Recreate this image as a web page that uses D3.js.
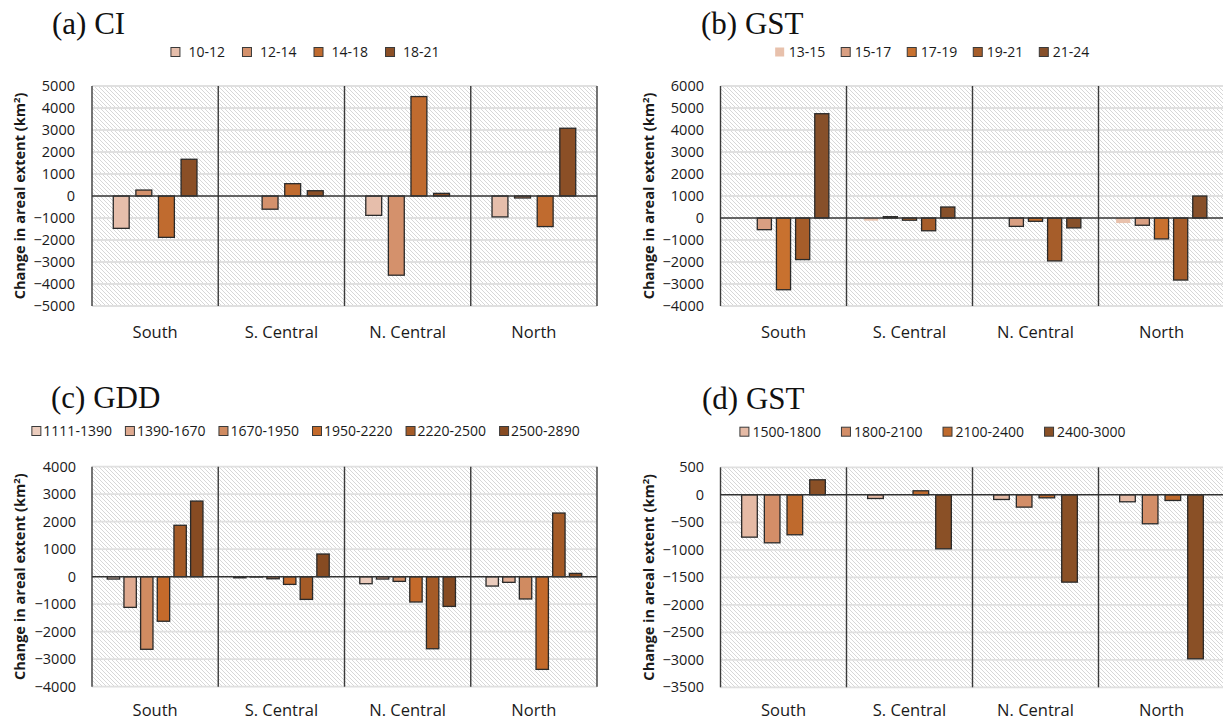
<!DOCTYPE html>
<html>
<head>
<meta charset="utf-8">
<script src="https://cdn.jsdelivr.net/npm/d3@7"></script>
<style>
  html, body { margin: 0; padding: 0; background: #ffffff; }
  svg { display: block; }
</style>
</head>
<body>
<svg id="chart" width="1223" height="723"></svg>
<script>
// ---------------- DATA ----------------
const categories = ["South", "S. Central", "N. Central", "North"];

// (a) CI
const ciSeries = ["10-12", "12-14", "14-18", "18-21"];
const ci_10_12 = [-1470, 0, -880, -950];
const ci_12_14 = [270, -600, -3600, -90];
const ci_14_18 = [-1880, 560, 4520, -1390];
const ci_18_21 = [1670, 240, 120, 3080];
const ciTicks = [5000, 4000, 3000, 2000, 1000, 0, -1000, -2000, -3000, -4000, -5000];

// (b) GST
const gstSeries = ["13-15", "15-17", "17-19", "19-21", "21-24"];
const gst_13_15 = [0, -120, 0, -230];
const gst_15_17 = [-530, 60, -380, -330];
const gst_17_19 = [-3260, -100, -150, -950];
const gst_19_21 = [-1890, -580, -1950, -2820];
const gst_21_24 = [4740, 500, -450, 1000];
const gstTicks = [6000, 5000, 4000, 3000, 2000, 1000, 0, -1000, -2000, -3000, -4000];

// (c) GDD
const gddSeries = ["1111-1390", "1390-1670", "1670-1950", "1950-2220", "2220-2500", "2500-2890"];
const gdd_1111_1390 = [-85, -40, -255, -340];
const gdd_1390_1670 = [-1115, -10, -85, -205];
const gdd_1670_1950 = [-2640, -75, -170, -810];
const gdd_1950_2220 = [-1620, -280, -920, -3370];
const gdd_2220_2500 = [1870, -825, -2620, 2315];
const gdd_2500_2890 = [2750, 825, -1080, 120];
const gddTicks = [4000, 3000, 2000, 1000, 0, -1000, -2000, -3000, -4000];

// (d) GST
const gst2Series = ["1500-1800", "1800-2100", "2100-2400", "2400-3000"];
const gst2_1500_1800 = [-770, -67, -85, -127];
const gst2_1800_2100 = [-873, 0, -224, -527];
const gst2_2100_2400 = [-727, 73, -55, -103];
const gst2_2400_3000 = [273, -982, -1588, -2982];
const gst2Ticks = [500, 0, -500, -1000, -1500, -2000, -2500, -3000, -3500];

// ---------------- STYLE / LAYOUT ----------------
const FONT = "'Open Sans', 'Noto Sans', sans-serif";
const panels = [
  {
    title: "(a) CI", series: ciSeries,
    values: [ci_10_12, ci_12_14, ci_14_18, ci_18_21],
    colors: ["#E6BEAB", "#D4916C", "#C06B2F", "#8B4F26"],
    noStroke: [],
    ticks: ciTicks, domain: [-5000, 5000],
    left: 92, right: 597, top: 86, bottom: 306,
    tickRight: 75, ytitleX: 20, catY: 332,
    titleX: 52, titleY: 34,
    legendY: 52, legendCx: 305, markerGap: 8, itemGap: 17,
    wFrac: 0.126, sFrac: 0.179
  },
  {
    title: "(b) GST", series: gstSeries,
    values: [gst_13_15, gst_15_17, gst_17_19, gst_19_21, gst_21_24],
    colors: ["#E8C1AC", "#D99F82", "#C8712F", "#A65D2A", "#87502A"],
    noStroke: [0],
    ticks: gstTicks, domain: [-4000, 6000],
    left: 720.5, right: 1224.5, top: 86, bottom: 306,
    tickRight: 704, ytitleX: 649, catY: 332,
    titleX: 701, titleY: 34,
    legendY: 52, legendCx: 932, markerGap: 4, itemGap: 15.5,
    wFrac: 0.112, sFrac: 0.152
  },
  {
    title: "(c) GDD", series: gddSeries,
    values: [gdd_1111_1390, gdd_1390_1670, gdd_1670_1950, gdd_1950_2220, gdd_2220_2500, gdd_2500_2890],
    colors: ["#EBCCBD", "#DFAA90", "#D08B61", "#C46A2B", "#A55B27", "#874B22"],
    noStroke: [],
    ticks: gddTicks, domain: [-4000, 4000],
    left: 92, right: 597, top: 466.7, bottom: 686.7,
    tickRight: 76, ytitleX: 20, catY: 710,
    titleX: 51, titleY: 408,
    legendY: 431, legendCx: 305.5, markerGap: 2, itemGap: 13,
    wFrac: 0.098, sFrac: 0.132
  },
  {
    title: "(d) GST", series: gst2Series,
    values: [gst2_1500_1800, gst2_1800_2100, gst2_2100_2400, gst2_2400_3000],
    colors: ["#E5BAA5", "#D38E68", "#BF6A2D", "#8A5026"],
    noStroke: [],
    ticks: gst2Ticks, domain: [-3500, 500],
    left: 720.5, right: 1224.5, top: 467.3, bottom: 687.3,
    tickRight: 704, ytitleX: 649, catY: 710,
    titleX: 702, titleY: 409,
    legendY: 431.7, legendCx: 932.5, markerGap: 3, itemGap: 20,
    wFrac: 0.124, sFrac: 0.18
  }
];

const svg = d3.select("#chart");
svg.append("rect").attr("width", 1223).attr("height", 723).attr("fill", "#fff");

// hatch pattern
const defs = svg.append("defs");
const pat = defs.append("pattern")
  .attr("id", "hatch").attr("patternUnits", "userSpaceOnUse")
  .attr("width", 4).attr("height", 4);
pat.append("rect").attr("width", 4).attr("height", 4).attr("fill", "#ffffff");
pat.append("path").attr("d", "M-1,-1 L5,5 M-1,3 L1,5 M3,-1 L5,1")
  .attr("stroke", "#d3d3d3").attr("stroke-width", 0.9);

panels.forEach(p => {
  const g = svg.append("g");
  const x0 = d3.scaleBand().domain(categories).range([p.left, p.right]).paddingInner(0).paddingOuter(0);
  const bw = x0.bandwidth();
  const n = p.series.length;
  const w = p.wFrac * bw, s = p.sFrac * bw;
  const G = (n - 1) * s + w;
  const x1 = d3.scaleBand().domain(p.series)
    .range([(bw - G) / 2, (bw + G) / 2])
    .paddingInner(1 - w / s).paddingOuter(0);
  const y = d3.scaleLinear().domain(p.domain).range([p.bottom, p.top]);

  // plot background hatch
  g.append("rect").attr("x", p.left).attr("y", p.top)
    .attr("width", p.right - p.left).attr("height", p.bottom - p.top)
    .attr("fill", "url(#hatch)");

  // horizontal gridlines
  g.append("g").selectAll("line").data(p.ticks.filter(t => t !== 0)).join("line")
    .attr("x1", p.left).attr("x2", p.right)
    .attr("y1", d => y(d)).attr("y2", d => y(d))
    .attr("stroke", "#e0e0e0").attr("stroke-width", 1.8);

  // bars
  p.series.forEach((ser, si) => {
    g.append("g").selectAll("rect").data(p.values[si].map((v, ci) => ({ v, c: categories[ci] })))
      .join("rect")
      .filter(d => d.v !== 0)
      .attr("x", d => x0(d.c) + x1(ser))
      .attr("y", d => y(Math.max(0, d.v)))
      .attr("width", x1.bandwidth())
      .attr("height", d => Math.abs(y(d.v) - y(0)))
      .attr("fill", p.colors[si])
      .attr("stroke", p.noStroke.includes(si) ? "none" : "#2a2a2a")
      .attr("stroke-width", 1.3);
  });

  // vertical category separators
  const bounds = categories.map(c => x0(c)).concat([p.right]);
  g.append("g").selectAll("line").data(bounds).join("line")
    .attr("x1", d => d).attr("x2", d => d)
    .attr("y1", p.top).attr("y2", p.bottom)
    .attr("stroke", "#3a3a3a").attr("stroke-width", 1.4);

  // zero line
  g.append("line").attr("x1", p.left).attr("x2", p.right)
    .attr("y1", y(0)).attr("y2", y(0))
    .attr("stroke", "#333").attr("stroke-width", 1.5);

  // y axis labels
  const yAxis = d3.axisLeft(y).tickValues(p.ticks).tickSize(0)
    .tickPadding(p.left - p.tickRight).tickFormat(d3.format("d"));
  const ya = g.append("g").attr("transform", `translate(${p.left},0)`).call(yAxis);
  ya.select(".domain").remove();
  ya.selectAll("text").attr("font-family", FONT).attr("font-size", 14.5).attr("fill", "#1a1a1a");

  // x category labels
  const xAxis = d3.axisBottom(x0).tickSize(0).tickPadding(0);
  const xa = g.append("g").attr("transform", `translate(0,${p.catY})`).call(xAxis);
  xa.select(".domain").remove();
  xa.selectAll("text").attr("font-family", FONT).attr("font-size", 16.5)
    .attr("fill", "#1a1a1a").attr("dy", "0.35em").attr("y", 0);

  // y title
  const yt = g.append("text")
    .attr("transform", `translate(${p.ytitleX},${(p.top + p.bottom) / 2}) rotate(-90)`)
    .attr("text-anchor", "middle").attr("dy", "0.35em")
    .attr("font-family", FONT).attr("font-weight", "bold").attr("font-size", 13)
    .attr("fill", "#1a1a1a");
  yt.append("tspan").text("Change in areal extent (km");
  yt.append("tspan").text("2").attr("font-size", 8.5).attr("dy", "-0.55em");
  yt.append("tspan").text(")").attr("dy", "0.35em");
  const len = yt.node().getComputedTextLength();
  if (len > 0) {
    const fs = 13 * 207 / len;
    yt.attr("font-size", fs);
    yt.select("tspan:nth-child(2)").attr("font-size", fs * 0.65);
  }

  // title
  g.append("text").attr("x", p.titleX).attr("y", p.titleY)
    .attr("font-family", "'Liberation Serif', 'Times New Roman', serif")
    .attr("font-size", 31).attr("fill", "#111").text(p.title);

  // legend
  const lg = g.append("g");
  let cx = 0;
  p.series.forEach((ser, si) => {
    const it = lg.append("g");
    it.append("rect").attr("x", 0.5).attr("y", -4.5).attr("width", 9).attr("height", 9)
      .attr("fill", p.colors[si])
      .attr("stroke", p.noStroke.includes(si) ? "none" : "#3a3a3a").attr("stroke-width", 1);
    const t = it.append("text").attr("x", 10 + p.markerGap).attr("y", 0).attr("dy", "0.35em")
      .attr("font-family", FONT).attr("font-size", 14).attr("fill", "#1a1a1a").text(ser);
    const tw = t.node().getComputedTextLength();
    it.attr("transform", `translate(${cx},0)`);
    cx += 10 + p.markerGap + tw + p.itemGap;
  });
  const total = cx - p.itemGap;
  lg.attr("transform", `translate(${p.legendCx - total / 2},${p.legendY})`);
});
</script>
</body>
</html>
